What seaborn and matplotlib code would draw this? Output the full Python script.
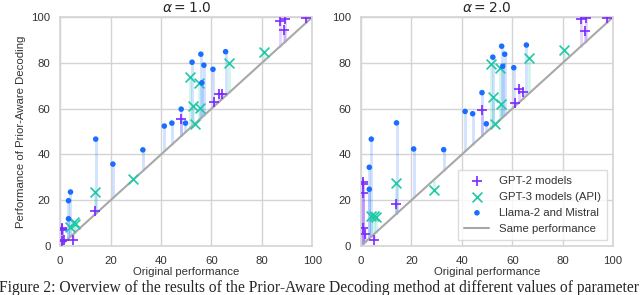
import numpy as np
import pandas as pd
import seaborn as sns
import matplotlib.pyplot as plt

# original performance (x) and performance with Prior-Aware Decoding (y)
gpt2_orig = [0.7, 0.7, 0.8, 0.9, 1.5, 5.0, 13.8, 48.0, 61.0, 62.8, 64.2, 87.1, 88.9, 89.1, 97.6]
gpt2_a1 = [8.0, 7.2, 7.6, 2.3, 2.6, 2.8, 15.3, 55.3, 62.7, 66.2, 66.2, 98.4, 94.3, 99.3, 99.4]
gpt2_a2 = [23.3, 7.7, 28.0, 27.2, 5.1, 2.5, 18.3, 59.4, 62.6, 68.4, 67.1, 99.1, 93.9, 99.6, 99.7]

gpt3_orig = [4.0, 5.3, 5.9, 13.9, 28.8, 51.4, 52.5, 53.3, 55.1, 55.4, 66.8, 80.7]
gpt3_a1 = [8.2, 10.5, 9.6, 23.4, 29.3, 73.7, 61.3, 53.1, 71.3, 60.3, 79.8, 84.9]
gpt3_a2 = [13.0, 13.0, 12.8, 27.5, 24.5, 79.3, 64.9, 53.1, 77.7, 61.9, 82.2, 85.6]

llama_orig = [3.3, 3.3, 4.1, 14.1, 20.9, 32.8, 41.3, 44.3, 48.0, 49.7, 52.3, 55.8, 56.2, 57.0, 60.6, 65.6]
llama_a1 = [11.9, 19.8, 23.6, 46.7, 35.8, 42.0, 52.4, 53.7, 59.8, 53.7, 80.3, 83.8, 71.3, 79.0, 77.2, 84.9]
llama_a2 = [24.8, 34.4, 46.7, 53.8, 42.4, 42.1, 58.8, 57.8, 67.0, 53.4, 82.5, 87.3, 78.5, 83.8, 77.9, 87.8]

alphas = ['1.0', '2.0']
groups = [
    ('GPT-2 models', gpt2_orig, [gpt2_a1, gpt2_a2], '#7b2bff', '+', 55),
    ('GPT-3 models (API)', gpt3_orig, [gpt3_a1, gpt3_a2], '#1ec9a6', 'x', 50),
    ('Llama-2 and Mistral', llama_orig, [llama_a1, llama_a2], '#1a6dff', 'o', 16),
]

sns.set_theme(style='whitegrid')
plt.rcParams['font.family'] = ['Liberation Sans', 'DejaVu Sans']
plt.rcParams['grid.color'] = '#d4d4d4'
plt.rcParams['axes.edgecolor'] = '#d4d4d4'

fig = plt.figure(figsize=(6.4, 2.95), dpi=100)
ax1 = fig.add_axes([0.094, 0.166, 0.394, 0.776])
ax2 = fig.add_axes([0.564, 0.166, 0.394, 0.776])

for k, ax in enumerate([ax1, ax2]):
    for name, xs, ys, col, mk, sz in groups:
        x = np.array(xs)
        y = np.array(ys[k])
        ax.vlines(x, x, y, color=col, alpha=0.2, lw=2.0, zorder=2)
    for name, xs, ys, col, mk, sz in groups:
        df = pd.DataFrame({'orig': xs, 'pad': ys[k]})
        if mk == 'o':
            sns.scatterplot(data=df, x='orig', y='pad', ax=ax, color=col, marker='o',
                            s=sz, edgecolor='none', label=name, zorder=3)
        else:
            sns.scatterplot(data=df, x='orig', y='pad', ax=ax, color=col, marker=mk,
                            s=sz, linewidth=1.2, label=name, zorder=3)
    ax.plot([0, 100], [0, 100], color='#a8a8a8', lw=1.5, label='Same performance', zorder=2)
    ax.set_xlim(0, 100)
    ax.set_ylim(0, 100)
    ax.set_xticks([0, 20, 40, 60, 80, 100])
    ax.set_yticks([0, 20, 40, 60, 80, 100])
    ax.tick_params(labelsize=8.2, colors='#333333', pad=1)
    ax.set_xlabel('Original performance', fontsize=8.2, color='#333333', labelpad=1)
    ax.set_ylabel('')
    ax.set_title(r'$\alpha = %s$' % alphas[k], fontsize=10, pad=4)
    for s in ax.spines.values():
        s.set_linewidth(1.2)

ax1.set_ylabel('Performance of Prior-Aware Decoding', fontsize=8.2, color='#333333', labelpad=4)
ax1.get_legend().remove()
leg = ax2.legend(loc='lower right', fontsize=8.2, frameon=True, fancybox=False,
                 borderpad=0.6, labelspacing=0.5, handlelength=2.2)
leg.get_frame().set_edgecolor('#d4d4d4')
for t in leg.get_texts():
    t.set_color('#333333')

fig.text(-0.002, 0.01, 'Figure 2: Overview of the results of the Prior-Aware Decoding method at different values of parameter',
         family=['Liberation Serif', 'DejaVu Serif'], fontsize=11.2, ha='left', va='baseline')

fig.savefig('out.png', dpi=100)
